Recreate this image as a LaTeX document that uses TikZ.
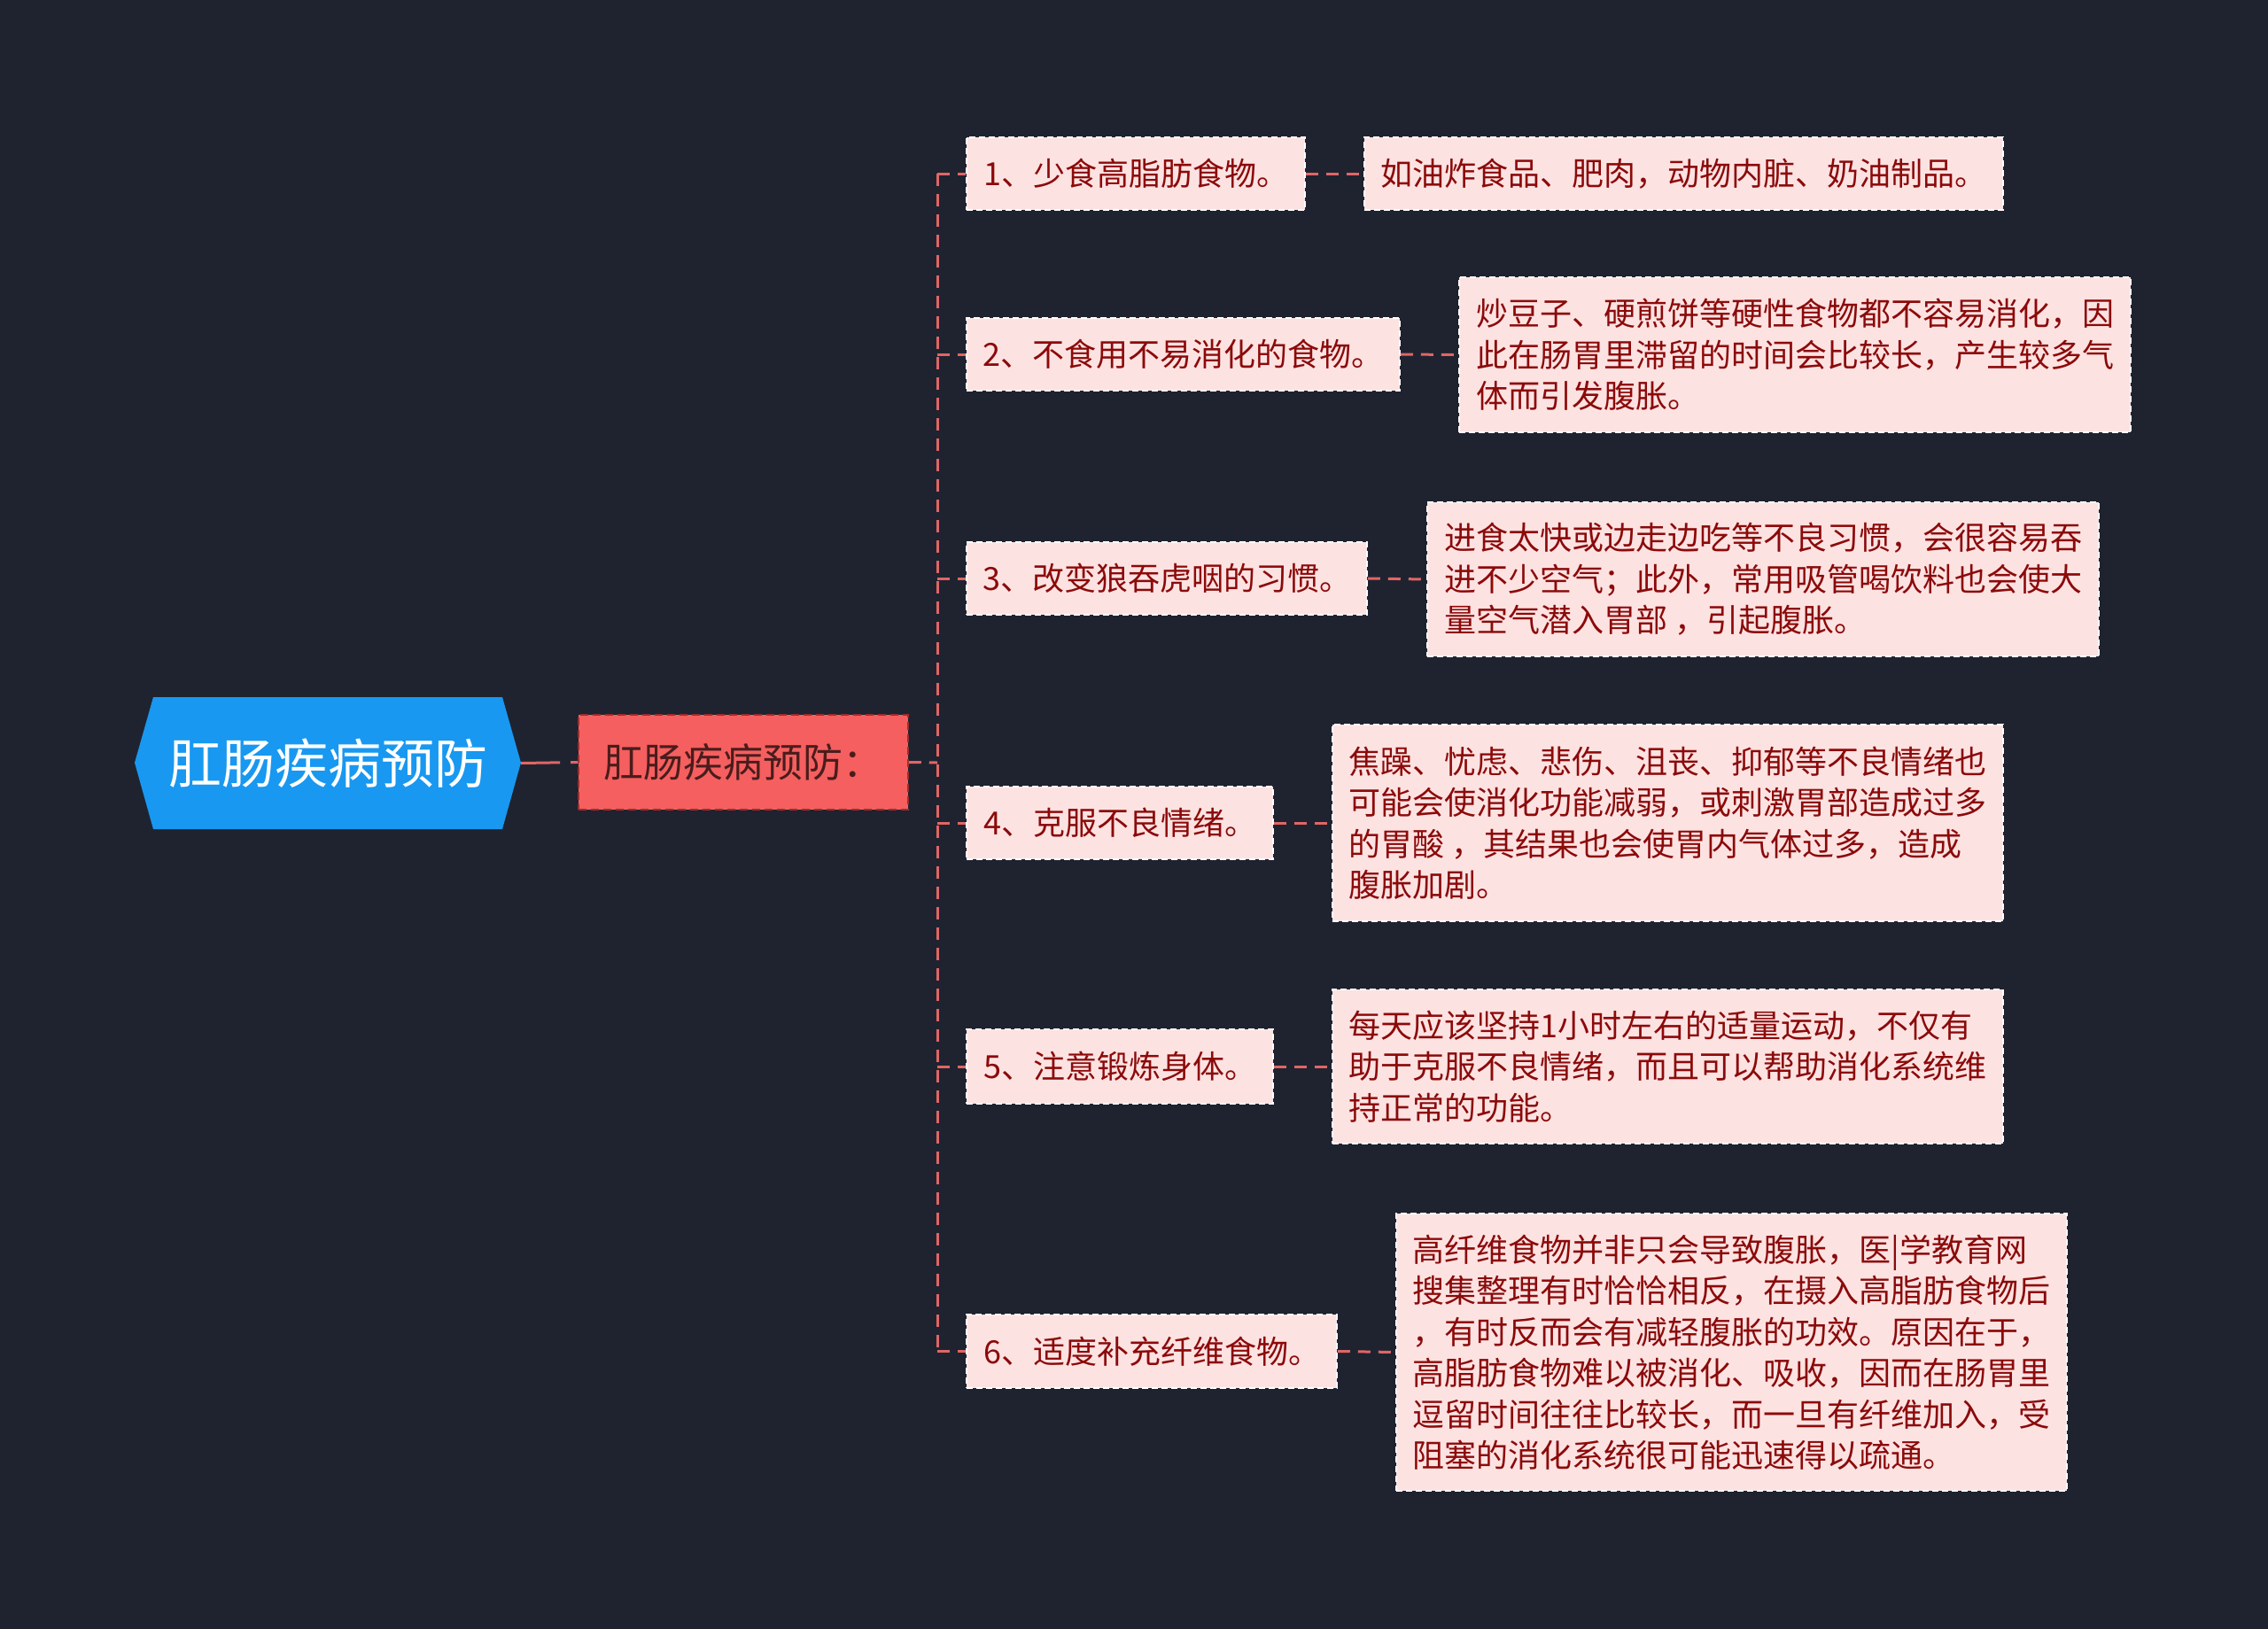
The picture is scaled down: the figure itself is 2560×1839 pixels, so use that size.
\documentclass[tikz,border=0pt]{standalone}
\usepackage{fontspec}
\setmainfont{Noto Sans CJK SC}
\definecolor{bgcol}{HTML}{1F2330}
\definecolor{rootblue}{HTML}{1898F0}
\definecolor{redfill}{HTML}{F55F5F}
\definecolor{pinkfill}{HTML}{FDE2E2}
\definecolor{textred}{HTML}{8B0A0A}
\definecolor{darktext}{HTML}{4A1C1C}
\definecolor{linkred}{HTML}{E06666}
\definecolor{redborder}{HTML}{9A2E2E}
\begin{document}
\begin{tikzpicture}[x=1pt,y=-1pt,
  conn/.style={draw=linkred, line width=3pt, dash pattern=on 14pt off 9pt},
  rootconn/.style={draw=linkred, line width=3pt, dash pattern=on 44pt off 12pt},
  pinkbox/.style={fill=pinkfill, draw=white, line width=1.5pt, dash pattern=on 7pt off 4pt,
    text=textred, inner sep=0pt, align=left, font=\fontsize{36}{46.5}\selectfont},
  redbox/.style={fill=redfill, draw=redborder, line width=1.5pt, dash pattern=on 9pt off 5pt,
    text=darktext, inner sep=0pt, font=\fontsize{45}{54}\selectfont},
  rootbox/.style={text=white, inner sep=0pt, font=\fontsize{60}{72}\selectfont}]
\useasboundingbox[fill=bgcol] (0,0) rectangle (2560,1839);

% root hexagon
\fill[rootblue] (152,861) -- (173,787) -- (567,787) -- (588,861) -- (567,936) -- (173,936) -- cycle;
\node[rootbox, minimum width=436pt, minimum height=149pt] (root) at (370,861.5) {肛肠疾病预防};

% second level
\node[redbox, minimum width=372pt, minimum height=107pt] (red) at (839,860.5) {肛肠疾病预防：};

% third level
\node[pinkbox, minimum width=382pt, minimum height=82pt] (a1) at (1282,196) {1、少食高脂肪食物。};
\node[pinkbox, minimum width=489pt, minimum height=82pt] (a2) at (1335.5,400) {2、不食用不易消化的食物。};
\node[pinkbox, minimum width=452pt, minimum height=82pt] (a3) at (1317,653) {3、改变狼吞虎咽的习惯。};
\node[pinkbox, minimum width=346pt, minimum height=82pt] (a4) at (1264,929) {4、克服不良情绪。};
\node[pinkbox, minimum width=346pt, minimum height=84pt] (a5) at (1264,1204) {5、注意锻炼身体。};
\node[pinkbox, minimum width=418pt, minimum height=83pt] (a6) at (1300,1525.5) {6、适度补充纤维食物。};

% leaves
\node[pinkbox, minimum width=721pt, minimum height=82pt] (b1) at (1900.5,196) {如油炸食品、肥肉，动物内脏、奶油制品。};
\node[pinkbox, minimum width=758pt, minimum height=175pt] (b2) at (2026,400.5) {炒豆子、硬煎饼等硬性食物都不容易消化，因\\此在肠胃里滞留的时间会比较长，产生较多气\\体而引发腹胀。};
\node[pinkbox, minimum width=758pt, minimum height=174pt] (b3) at (1990,654) {进食太快或边走边吃等不良习惯，会很容易吞\\进不少空气；此外，常用吸管喝饮料也会使大\\量空气潜入胃部 ，引起腹胀。};
\node[pinkbox, minimum width=757pt, minimum height=222pt] (b4) at (1882.5,929) {焦躁、忧虑、悲伤、沮丧、抑郁等不良情绪也\\可能会使消化功能减弱，或刺激胃部造成过多\\的胃酸 ，其结果也会使胃内气体过多，造成\\腹胀加剧。};
\node[pinkbox, minimum width=757pt, minimum height=174pt] (b5) at (1882.5,1204) {每天应该坚持1小时左右的适量运动，不仅有\\助于克服不良情绪，而且可以帮助消化系统维\\持正常的功能。};
\node[pinkbox, minimum width=757pt, minimum height=313pt] (b6) at (1954.5,1526.5) {高纤维食物并非只会导致腹胀，医|学教育网\\搜集整理有时恰恰相反，在摄入高脂肪食物后\\，有时反而会有减轻腹胀的功效。原因在于，\\高脂肪食物难以被消化、吸收，因而在肠胃里\\逗留时间往往比较长，而一旦有纤维加入，受\\阻塞的消化系统很可能迅速得以疏通。};

% connectors
\coordinate (tr) at (1058,861);
\draw[rootconn] (root.east) -- (red.west);
\draw[conn] (red.east) -- (tr);
\draw[conn] (tr |- a1.west) -- (tr |- a6.west);
\foreach \n in {1,...,6} {
  \draw[conn] (tr |- a\n.west) -- (a\n.west);
  \draw[conn] (a\n.east) -- (b\n.west);
}
\end{tikzpicture}
\end{document}
